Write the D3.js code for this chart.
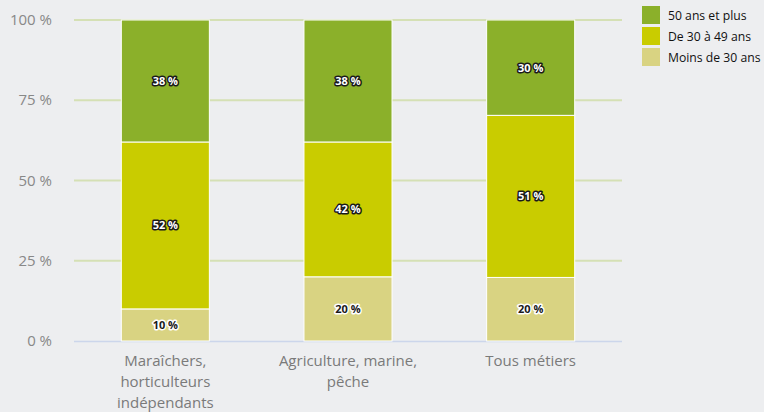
<!DOCTYPE html>
<html><head><meta charset="utf-8">
<script src="https://cdn.jsdelivr.net/npm/d3@7"></script>
<style>
html,body{margin:0;padding:0;background:#edeef0;}
svg{display:block;font-family:"Open Sans",sans-serif;}
</style></head><body>
<svg id="c" width="764" height="412"></svg>
<script>
const categories = [["Maraîchers,","horticulteurs","indépendants"],["Agriculture, marine,","pêche"],["Tous métiers"]];
const seriesNames = ["Moins de 30 ans","De 30 à 49 ans","50 ans et plus"];
const moins30 = [10, 20, 20];
const de30a49 = [52, 42, 51];
const plus50 = [38, 38, 30];
const yTicks = [0, 25, 50, 75, 100];
const colors = ["#d9d382","#c9cc00","#8bb02a"];

const svg = d3.select("#c");
const m = {l:74, r:142, t:20, b:71};
const W = 764, H = 412;
const x = d3.scaleBand().domain(d3.range(categories.length)).range([m.l, W-m.r]).paddingInner(0.518).paddingOuter(0.259);
const y = d3.scaleLinear().domain([0,100]).range([H-m.b, m.t]);

// grid
svg.append("g").selectAll("line").data(yTicks.filter(d=>d>0)).join("line")
  .attr("x1", m.l).attr("x2", W-m.r).attr("y1", d=>y(d)).attr("y2", d=>y(d))
  .attr("stroke","#d5e0b5").attr("stroke-width",2);
svg.append("line").attr("x1", m.l).attr("x2", W-m.r).attr("y1", y(0)+0.5).attr("y2", y(0)+0.5)
  .attr("stroke","#ccd6eb").attr("stroke-width",1.5);

// y labels
svg.append("g").selectAll("text").data(yTicks).join("text")
  .attr("x", 52).attr("y", d=>y(d)+5).attr("text-anchor","end")
  .attr("font-size",15).attr("fill","#888").text(d=>d+" %");

// stack
const rows = categories.map((c,i)=>{
  const vals=[moins30[i], de30a49[i], plus50[i]];
  const tot=d3.sum(vals);
  return {i, vals, pct: vals.map(v=>v/tot*100)};
});
const stack = d3.stack().keys([0,1,2]).value((d,k)=>d.pct[k]);
const layers = stack(rows);

const g = svg.append("g");
layers.forEach((layer,k)=>{
  g.selectAll(null).data(layer).join("rect")
    .attr("x", d=>x(d.data.i)).attr("width", x.bandwidth())
    .attr("y", d=>y(d[1])).attr("height", d=>y(d[0])-y(d[1]))
    .attr("fill", colors[k]).attr("stroke","#ffffff").attr("stroke-width",1);
});
layers.forEach((layer,k)=>{
  const dark = k===0;
  g.selectAll(null).data(layer).join("text")
    .attr("x", d=>x(d.data.i)+x.bandwidth()/2)
    .attr("y", d=>(y(d[0])+y(d[1]))/2+4)
    .attr("text-anchor","middle").attr("font-size",11).attr("font-weight","bold")
    .attr("fill", dark?"#1a1a1a":"#ffffff")
    .attr("stroke", dark?"#ffffff":"#1a1a1a").attr("stroke-width",3)
    .attr("stroke-linejoin","round").attr("paint-order","stroke")
    .text(d=>d.data.vals[k]+" %");
});

// x labels
categories.forEach((lines,i)=>{
  const t = svg.append("text").attr("text-anchor","middle").attr("font-size",15).attr("fill","#7a7a7a");
  lines.forEach((ln,j)=>{
    t.append("tspan").attr("x", x(i)+x.bandwidth()/2).attr("y", 366+j*21).text(ln);
  });
});

// legend
const legOrder=[2,1,0];
legOrder.forEach((k,j)=>{
  svg.append("rect").attr("x",642).attr("y",6+j*21).attr("width",18).attr("height",18).attr("fill",colors[k]);
  svg.append("text").attr("x",668).attr("y",19.5+j*21).attr("font-size",12.2).attr("fill","#111").text(seriesNames[k]);
});
</script>
</body></html>
